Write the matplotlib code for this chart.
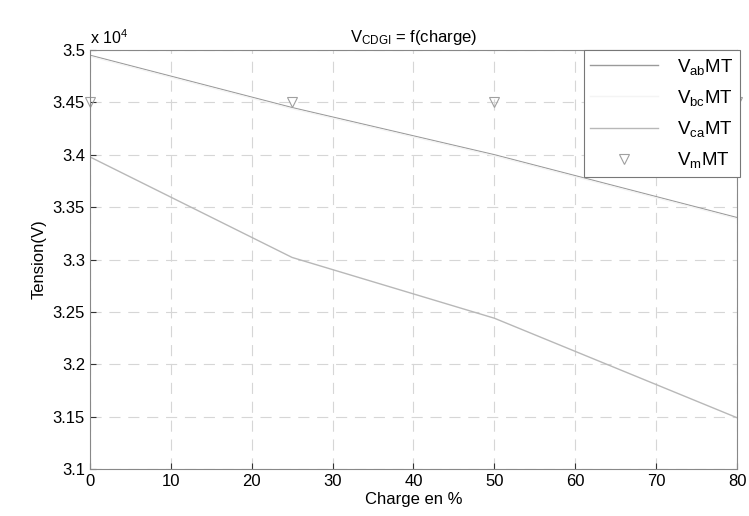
import matplotlib.pyplot as plt
import numpy as np
from matplotlib.ticker import FuncFormatter

plt.rcParams['font.family'] = ['Liberation Sans', 'DejaVu Sans']
plt.rcParams['font.size'] = 11
plt.rcParams['mathtext.default'] = 'regular'

#################### DATA ##############################
charge = [0, 25, 50, 80]
v_ab = [34950, 34450, 34000, 33400]
v_bc = [34940, 34440, 33990, 33390]
v_ca = [33980, 33020, 32440, 31490]
v_m = [34500, 34500, 34500, 34500]

#################### PLOT ##############################
fig = plt.figure(figsize=(7.49, 5.16), dpi=100)
ax = fig.add_axes([0.120, 0.091, 0.864, 0.812])

ax.plot(charge, v_ab, color='#9a9a9a', lw=1.0, label='V$_{ab}$MT')
ax.plot(charge, v_bc, color='#f4f4f4', lw=1.0, label='V$_{bc}$MT')
ax.plot(charge, v_ca, color='#b8b8b8', lw=1.0, label='V$_{ca}$MT')
ax.plot(charge, v_m, ls='none', marker='v', mfc='none', mec='#a0a0a0',
        ms=7, mew=0.8, label='V$_{m}$MT', clip_on=False)

ax.set_xlim(0, 80)
ax.set_ylim(31000, 35000)
ax.set_xticks(np.arange(0, 81, 10))
ax.set_yticks(np.arange(31000, 35001, 500))
ax.yaxis.set_major_formatter(FuncFormatter(lambda v, p: '%g' % (v / 1e4)))
ax.tick_params(direction='in', length=4, labelsize=12, color='#333333')
ax.grid(True, ls=(0, (10, 7)), color='#d6d6d6', lw=0.8)
for s in ax.spines.values():
    s.set_color('#888888')

ax.text(0, 1.008, 'x 10$^4$', transform=ax.transAxes, fontsize=11.5,
        ha='left', va='bottom')
ax.set_title('V$_{CDGI}$ = f(charge)', fontsize=12, pad=6)
ax.set_xlabel('Charge en %', fontsize=12, labelpad=2)
ax.set_ylabel('Tension(V)', fontsize=12)

leg = ax.legend(loc='upper right', bbox_to_anchor=(1.004, 1.0), fontsize=13.5,
                fancybox=False, framealpha=1, edgecolor='#777777',
                handlelength=3.6, labelspacing=0.6, borderpad=0.35,
                handletextpad=1.0, borderaxespad=0)
leg.get_frame().set_linewidth(0.8)

fig.savefig('out.png', dpi=100)
